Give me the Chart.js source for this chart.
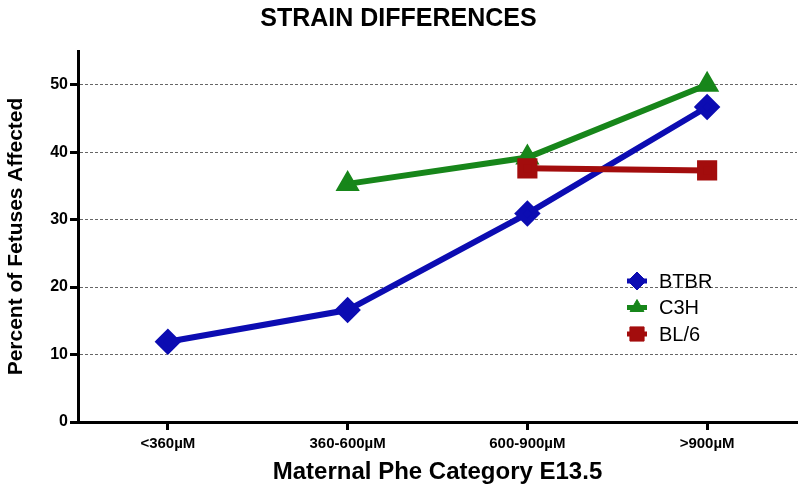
<!DOCTYPE html>
<html>
<head>
<meta charset="utf-8">
<script src="https://cdn.jsdelivr.net/npm/chart.js@4"></script>
<style>
  html, body { margin: 0; padding: 0; background: #fff; overflow: hidden; }
  #wrap { width: 800px; height: 496px; }
  canvas { display: block; }
</style>
</head>
<body>
<div id="wrap"><canvas id="strain-chart"></canvas></div>
<script>
const categories = ["<360µM", "360-600µM", "600-900µM", ">900µM"];
const btbrValues = [11.9, 16.6, 30.9, 46.7];
const c3hValues = [null, 35.3, 39.2, 50.0];
const bl6Values = [null, null, 37.6, 37.3];
const yTicks = [0, 10, 20, 30, 40, 50];

const tickFont = { family: "'Liberation Sans', Arial", size: 15, weight: "bold" };

// legend sits inside the plot, like the original
const innerLegend = {
  id: "innerLegend",
  afterDraw(chart) {
    const ctx = chart.ctx;
    ctx.save();
    ctx.font = "20px 'Liberation Sans', Arial";
    ctx.textBaseline = "middle";
    chart.data.datasets.forEach((ds, k) => {
      const y = 281 + k * 26.5;
      ctx.fillStyle = ds.borderColor;
      ctx.strokeStyle = ds.borderColor;
      ctx.fillRect(627, y - 2.5, 20, 5);
      Chart.helpers.drawPoint(ctx, { pointStyle: ds.pointStyle, radius: ds.pointRadius, borderWidth: 1, rotation: 0 }, 637, y);
      ctx.fillStyle = "#000";
      ctx.fillText(ds.label, 659, y + 1);
    });
    ctx.restore();
  }
};

new Chart(document.getElementById("strain-chart"), {
  type: "line",
  data: {
    labels: categories,
    datasets: [
      {
        label: "BTBR",
        data: btbrValues,
        borderColor: "#0c0cb2",
        backgroundColor: "#0c0cb2",
        borderWidth: 6,
        pointStyle: "rectRot",
        pointRadius: 9,
        order: 1
      },
      {
        label: "C3H",
        data: c3hValues,
        borderColor: "#17861a",
        backgroundColor: "#17861a",
        borderWidth: 6,
        pointStyle: "triangle",
        pointRadius: 8,
        order: 2
      },
      {
        label: "BL/6",
        data: bl6Values,
        borderColor: "#a30d0d",
        backgroundColor: "#a30d0d",
        borderWidth: 6,
        pointStyle: "rect",
        pointRadius: 10,
        order: 0
      }
    ]
  },
  options: {
    responsive: true,
    maintainAspectRatio: false,
    animation: false,
    layout: { autoPadding: false, padding: { left: 0, right: 3, top: 0, bottom: 0 } },
    plugins: {
      legend: { display: false },
      tooltip: { enabled: false },
      title: {
        display: true,
        text: "STRAIN DIFFERENCES",
        color: "#000",
        font: { family: "'Liberation Sans', Arial", size: 25, weight: "bold", lineHeight: 1.2 },
        padding: { top: 4, bottom: 17 }
      }
    },
    scales: {
      x: {
        offset: true,
        grid: {
          drawOnChartArea: false,
          drawTicks: true,
          tickLength: 8,
          tickColor: "#000",
          tickWidth: 3
        },
        border: { color: "#000", width: 3 },
        ticks: { color: "#000", font: tickFont, padding: 5, maxRotation: 0 },
        title: {
          display: true,
          text: "Maternal Phe Category E13.5",
          color: "#000",
          font: { family: "'Liberation Sans', Arial", size: 24, weight: "bold", lineHeight: 1.2 },
          padding: { top: 4, bottom: 9 }
        },
        afterFit(scale) {
          scale.height = 74;
          scale.paddingLeft = 0;
          scale.paddingRight = 0;
        }
      },
      y: {
        min: 0,
        max: 55,
        afterBuildTicks(scale) { scale.ticks = yTicks.map(v => ({ value: v })); },
        grid: {
          color: "#666",
          lineWidth: 1,
          tickLength: 8,
          tickColor: "#000",
          tickWidth: 3,
          tickBorderDash: []
        },
        border: { color: "#000", width: 3, dash: [3, 2] },
        ticks: { color: "#000", font: { family: "'Liberation Sans', Arial", size: 16, weight: "bold" }, padding: 2 },
        title: {
          display: true,
          text: "Percent of Fetuses Affected",
          color: "#000",
          font: { family: "'Liberation Sans', Arial", size: 21, weight: "bold", lineHeight: 1.2 },
          padding: { top: 4, bottom: 4 }
        },
        afterFit(scale) {
          scale.width = 78;
          scale.paddingTop = 0;
          scale.paddingBottom = 0;
        }
      }
    }
  },
  plugins: [innerLegend]
});
</script>
</body>
</html>
